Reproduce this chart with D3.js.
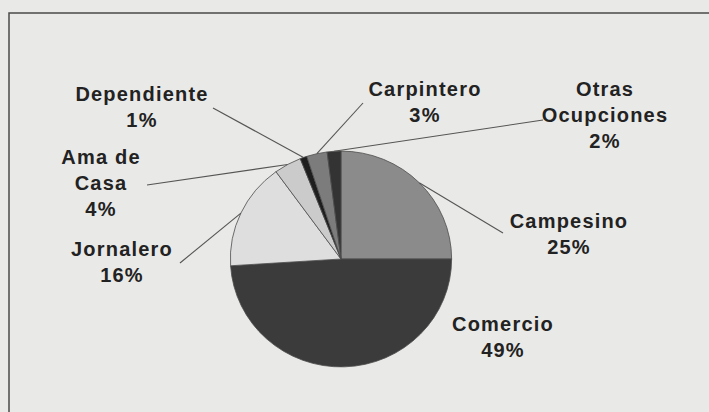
<!DOCTYPE html>
<html>
<head>
<meta charset="utf-8">
<script src="https://cdn.jsdelivr.net/npm/d3@7"></script>
<style>
  body { margin: 0; background: #e9e9e7; }
  svg { display: block; }
  .lbl { font-family: "Liberation Sans", Arial, sans-serif; font-weight: bold; font-size: 20px; letter-spacing: 1.2px; fill: #222; }
</style>
</head>
<body>
<svg id="chart" width="709" height="412"></svg>
<script>
// occupation categories, clockwise from 12 o'clock
const categories = ['Campesino', 'Comercio', 'Jornalero', 'Ama de Casa', 'Dependiente', 'Carpintero', 'Otras Ocupciones'];
const values = [25, 49, 16, 4, 1, 3, 2];
const labelLines = [['Campesino'], ['Comercio'], ['Jornalero'], ['Ama de', 'Casa'], ['Dependiente'], ['Carpintero'], ['Otras', 'Ocupciones']];
const fills = ['#8b8b8b', '#3b3b3b', '#dedede', '#cbcbcb', '#1e1e1e', '#7c7c7c', '#333333'];

// label layout: text centre x, first baseline y, leader end point (null = no leader)
const labelPos = {
  'Campesino': { x: 569, y: 228, end: [503, 233] },
  'Comercio': { x: 503, y: 331, end: null },
  'Jornalero': { x: 122, y: 256, end: [180, 263] },
  'Ama de Casa': { x: 101, y: 164, end: [147, 185] },
  'Dependiente': { x: 142, y: 101, end: [213, 108] },
  'Carpintero': { x: 425, y: 96, end: [363, 103] },
  'Otras Ocupciones': { x: 605, y: 96, end: [543, 120] }
};

const svg = d3.select('#chart');
const cx = 341, cy = 259, radius = 109;
const lineH = 26;

// frame of the original figure
svg.append('rect')
  .attr('x', 9).attr('y', 13)
  .attr('width', 720).attr('height', 420)
  .attr('fill', 'none')
  .attr('stroke', '#4a4a4a')
  .attr('stroke-width', 1.5);

const data = categories.map((c, i) => ({ name: c, value: values[i], lines: labelLines[i], fill: fills[i] }));

const pie = d3.pie().sort(null).value(d => d.value);
const arcs = pie(data);
const arc = d3.arc().innerRadius(0).outerRadius(radius);

const g = svg.append('g')
  .attr('transform', `translate(${cx},${cy}) scale(1.015,0.99)`);

g.selectAll('path.slice')
  .data(arcs)
  .enter()
  .append('path')
  .attr('class', 'slice')
  .attr('d', arc)
  .attr('fill', d => d.data.fill)
  .attr('stroke', '#4d4d4d')
  .attr('stroke-width', 0.8);

// leader lines from slice edge to labels
const edge = d3.arc().innerRadius(radius).outerRadius(radius);
arcs.forEach(d => {
  const p = labelPos[d.data.name];
  if (!p.end) return;
  const [ex, ey] = edge.centroid(d);
  svg.append('line')
    .attr('x1', cx + ex * 1.015).attr('y1', cy + ey * 0.99)
    .attr('x2', p.end[0]).attr('y2', p.end[1])
    .attr('stroke', '#555')
    .attr('stroke-width', 1.1);
});

// labels
arcs.forEach(d => {
  const p = labelPos[d.data.name];
  const t = svg.append('text')
    .attr('class', 'lbl')
    .attr('text-anchor', 'middle')
    .attr('x', p.x).attr('y', p.y);
  const rows = d.data.lines.concat([d.data.value + '%']);
  rows.forEach((r, i) => {
    t.append('tspan').attr('x', p.x).attr('dy', i === 0 ? 0 : lineH).text(r);
  });
});
</script>
</body>
</html>
